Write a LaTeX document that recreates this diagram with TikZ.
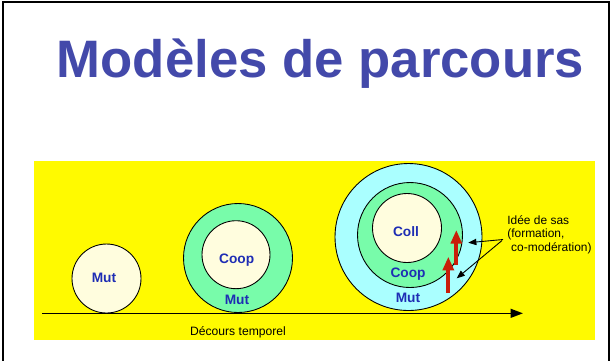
\documentclass[tikz,border=0pt]{standalone}
\usepackage{fontspec}
\setmainfont{Liberation Sans}
\usepackage{tikz}
\usetikzlibrary{arrows.meta}
\definecolor{titleblue}{RGB}{67,73,170}
\definecolor{labelblue}{RGB}{30,45,180}
\definecolor{bgyellow}{RGB}{255,250,0}
\definecolor{cream}{RGB}{255,253,222}
\definecolor{mint}{RGB}{120,252,170}
\definecolor{skyring}{RGB}{170,255,255}
\definecolor{arrowred}{RGB}{200,30,10}

\begin{document}
\begin{tikzpicture}[x=0.02cm, y=-0.02cm,
        ring/.style={draw, circle, line width=0.5pt, inner sep=0pt},
        lab/.style={font=\fontsize{7.8}{9}\selectfont\bfseries, text=labelblue},
        up/.style={arrowred, line width=2.4pt, -{Triangle[width=6.2pt,length=7.8pt]}}]
        \useasboundingbox (0,0) rectangle (614,360);
        \draw[line width=1.5pt] (3,365) -- (3,2) -- (609,2) -- (609,365);
        \fill[bgyellow] (34,161) rectangle (595,340);
        \node[text=titleblue, font=\fontsize{30}{36}\selectfont\bfseries, anchor=base] (title) at (320.5,77) {Modèles de parcours};
        % time axis
        \coordinate (t0) at (42,313.3);
        \coordinate (t1) at (523,313.3);
        \draw[line width=0.9pt, -{Triangle[width=5pt,length=7pt]}] (t0) -- (t1);
        \node[font=\fontsize{6.9}{8}\selectfont] (temps) at (238,332) {Décours temporel};
        % first stage
        \node[ring, fill=cream, minimum size=1.38cm] (c1) at (106.5,278.5) {};
        \node[lab] (mut1) at (104,278) {Mut};
        % second stage
        \node[ring, fill=mint, minimum size=2.18cm] (c2) at (238,258) {};
        \node[ring, fill=cream, minimum size=1.36cm] (c2i) at (236,254.7) {};
        \node[lab] (coop2) at (236.7,260) {Coop};
        \node[lab] (mut2) at (237,300) {Mut};
        % third stage
        \node[ring, fill=skyring, minimum size=2.94cm] (c3) at (408.5,237) {};
        \node[ring, fill=mint, minimum size=2.1cm] (c3m) at (410,235) {};
        \node[ring, fill=cream, minimum size=1.38cm] (c3i) at (407,228) {};
        \node[lab] (coll3) at (406,232) {Coll};
        \node[lab] (coop3) at (408,274) {Coop};
        \node[lab] (mut3) at (408,298) {Mut};
        % passages
        \coordinate (p1a) at (456.3,265);
        \coordinate (p1b) at (456.3,230);
        \coordinate (p2a) at (448.3,292.7);
        \coordinate (p2b) at (448.3,256.7);
        \draw[up] (p1a) -- (p1b);
        \draw[up] (p2a) -- (p2b);
        \node[font=\fontsize{6.8}{7.8}\selectfont, align=left, anchor=north west, inner sep=0pt] (sas) at (507,215) {Idée de sas\\(formation,\\\hspace{2.2pt}co-modération)};
        \coordinate (s1) at (468.3,242.7);
        \coordinate (s2) at (456.7,278.3);
        \draw[line width=0.5pt, -{Triangle[width=3.6pt,length=4.6pt]}] (503,239.5) -- (s1);
        \draw[line width=0.5pt, -{Triangle[width=3.6pt,length=4.6pt]}] (502,240.5) -- (s2);
    \end{tikzpicture}
\end{document}
